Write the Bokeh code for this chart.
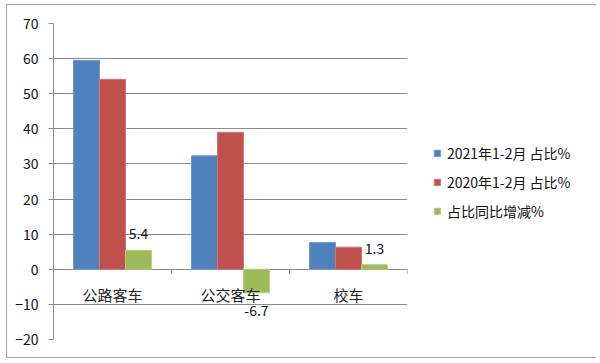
from bokeh.plotting import figure
from bokeh.models import (ColumnDataSource, FactorRange, Range1d, FixedTicker,
                          Legend, LegendItem)
from bokeh.transform import dodge
from bokeh.core.properties import value
from bokeh.embed import file_html
from bokeh.resources import INLINE

# ---- data ----
categories = ["公路客车", "公交客车", "校车"]
share_2021 = [59.5, 32.3, 7.6]
share_2020 = [54.1, 39.0, 6.3]
share_change = [5.4, -6.7, 1.3]
series_names = ["2021年1-2月 占比%", "2020年1-2月 占比%", "占比同比增减%"]
y_ticks = [-20, -10, 0, 10, 20, 30, 40, 50, 60, 70]

colors = ["#4F81BD", "#C0504D", "#9BBB59"]
FONT = "Noto Sans CJK SC"

src = ColumnDataSource(dict(
    cat=categories, a=share_2021, b=share_2020, c=share_change,
    lab=[f"{v:g}" for v in share_change],
    base=["bottom" if v >= 0 else "top" for v in share_change],
    yoff=[-11 if v >= 0 else 12 for v in share_change],
    zero=[0] * len(categories),
    tick=[-1.4] * len(categories),
))

p = figure(x_range=FactorRange(*categories, range_padding=0, factor_padding=0),
           y_range=Range1d(y_ticks[0], y_ticks[-1]),
           frame_width=354, frame_height=316,
           min_border_left=46, min_border_top=18, min_border_right=188,
           min_border_bottom=18,
           output_backend="svg", toolbar_location=None)
p.styles = {"border": "1px solid #a6a6a6", "margin-left": "6px", "margin-top": "4px",
            "box-sizing": "content-box", "width": "588px", "height": "352px"}
p.outline_line_color = None
p.background_fill_color = "white"
p.border_fill_color = "white"

w = 0.22
r1 = p.vbar(x=dodge("cat", -w, range=p.x_range), top="a", width=w, source=src,
            fill_color=colors[0], line_color="#6f97cc")
r2 = p.vbar(x=dodge("cat", 0, range=p.x_range), top="b", width=w, source=src,
            fill_color=colors[1], line_color="#d07572")
r3 = p.vbar(x=dodge("cat", w, range=p.x_range), top="c", width=w, source=src,
            fill_color=colors[2], line_color="#b3cd80")

# boundary ticks on the category axis (axis line sits at y = 0)
p.segment(x0=dodge("cat", 0.5, range=p.x_range), x1=dodge("cat", 0.5, range=p.x_range),
          y0="zero", y1="tick", source=src, line_color="#8c8c8c", line_width=1)

# category labels under the zero line
p.text(x="cat", y="zero", text="cat", source=src,
       text_align="center", text_baseline="middle", y_offset=25,
       text_font=value(FONT), text_font_size="15px", text_color="#222222")

# data labels
p.text(x=dodge("cat", w, range=p.x_range), y="c", text="lab", source=src,
       text_align="center", text_baseline="base", y_offset="yoff",
       text_font=value(FONT), text_font_size="14px", text_color="#111111")

# axes
p.yaxis.ticker = FixedTicker(ticks=y_ticks)
p.yaxis.axis_line_color = "#8c8c8c"
p.yaxis.major_tick_line_color = "#8c8c8c"
p.yaxis.major_tick_out = 5
p.yaxis.major_tick_in = 0
p.yaxis.minor_tick_line_color = None
p.yaxis.major_label_standoff = 10
p.yaxis.major_label_text_font = FONT
p.yaxis.major_label_text_font_size = "14px"
p.yaxis.major_label_text_color = "#111111"

p.xaxis.visible = False

p.xgrid.grid_line_color = None
p.ygrid.ticker = FixedTicker(ticks=y_ticks)
p.ygrid.grid_line_color = "#8c8c8c"
p.ygrid.grid_line_width = 1

legend = Legend(items=[LegendItem(label=series_names[0], renderers=[r1]),
                       LegendItem(label=series_names[1], renderers=[r2]),
                       LegendItem(label=series_names[2], renderers=[r3])],
                location=(26, 118), orientation="vertical")
legend.border_line_color = None
legend.background_fill_alpha = 0
legend.padding = 0
legend.margin = 0
legend.spacing = 9
legend.glyph_width = 8
legend.glyph_height = 8
legend.label_height = 20
legend.label_standoff = 6
legend.label_text_font = FONT
legend.label_text_font_size = "14px"
legend.label_text_color = "#111111"
p.add_layout(legend, "right")

open("out.html", "w").write(file_html(p, INLINE))
